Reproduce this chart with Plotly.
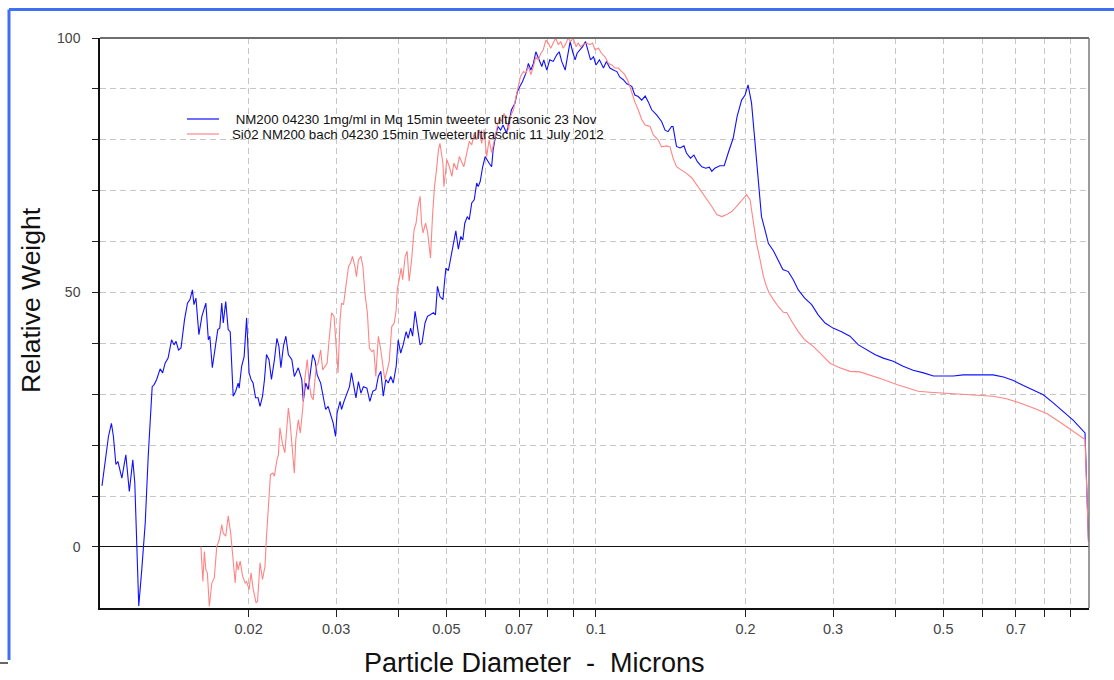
import plotly.graph_objects as go

# Particle size distributions (log10 of diameter in microns, relative weight)
blue_log_diameter = [
    -1.994, -1.981, -1.975, -1.971, -1.966, -1.962, -1.954, -1.946, -1.939, -1.932,
    -1.928, -1.924, -1.920, -1.914, -1.907, -1.901, -1.893, -1.889, -1.884, -1.877,
    -1.872, -1.867, -1.861, -1.854, -1.849, -1.845, -1.840, -1.835, -1.828, -1.822,
    -1.817, -1.812, -1.809, -1.805, -1.799, -1.793, -1.785, -1.780, -1.777, -1.772,
    -1.767, -1.761, -1.757, -1.753, -1.750, -1.745, -1.740, -1.736, -1.730, -1.725,
    -1.720, -1.718, -1.713, -1.708, -1.703, -1.698, -1.694, -1.690, -1.685, -1.680,
    -1.676, -1.671, -1.667, -1.663, -1.658, -1.653, -1.647, -1.642, -1.638, -1.634,
    -1.629, -1.624, -1.619, -1.612, -1.607, -1.599, -1.592, -1.589, -1.584, -1.579,
    -1.574, -1.570, -1.565, -1.561, -1.554, -1.549, -1.544, -1.539, -1.534, -1.529,
    -1.524, -1.521, -1.515, -1.512, -1.507, -1.502, -1.496, -1.492, -1.487, -1.483,
    -1.478, -1.473, -1.468, -1.461, -1.455, -1.449, -1.443, -1.438, -1.433, -1.428,
    -1.423, -1.418, -1.413, -1.408, -1.402, -1.398, -1.393, -1.388, -1.382, -1.378,
    -1.373, -1.369, -1.364, -1.359, -1.354, -1.350, -1.344, -1.339, -1.334, -1.327,
    -1.323, -1.319, -1.314, -1.308, -1.305, -1.302, -1.297, -1.292, -1.287, -1.282,
    -1.277, -1.272, -1.268, -1.264, -1.259, -1.255, -1.250, -1.245, -1.240, -1.237,
    -1.233, -1.228, -1.223, -1.220, -1.215, -1.210, -1.207, -1.201, -1.197, -1.192,
    -1.187, -1.180, -1.174, -1.170, -1.163, -1.158, -1.153, -1.148, -1.141, -1.136,
    -1.131, -1.126, -1.121, -1.116, -1.109, -1.105, -1.099, -1.093, -1.086, -1.079,
    -1.074, -1.069, -1.062, -1.058, -1.052, -1.047, -1.042, -1.038, -1.032, -1.027,
    -1.021, -1.016, -1.011, -1.005, -1.000, -0.993, -0.985, -0.979, -0.972, -0.965,
    -0.958, -0.952, -0.945, -0.938, -0.928, -0.922, -0.915, -0.908, -0.901, -0.895,
    -0.888, -0.878, -0.868, -0.861, -0.855, -0.848, -0.845, -0.838, -0.831, -0.823,
    -0.818, -0.810, -0.803, -0.796, -0.787, -0.779, -0.772, -0.767, -0.761, -0.751,
    -0.742, -0.734, -0.724, -0.716, -0.707, -0.700, -0.694, -0.687, -0.680, -0.673,
    -0.667, -0.660, -0.653, -0.643, -0.633, -0.624, -0.613, -0.603, -0.593, -0.580,
    -0.566, -0.553, -0.539, -0.523, -0.506, -0.489, -0.472, -0.455, -0.439, -0.422,
    -0.402, -0.382, -0.362, -0.341, -0.321, -0.301, -0.281, -0.261, -0.241, -0.221,
    -0.201, -0.180, -0.160, -0.140, -0.120, -0.100, -0.080, -0.060, -0.040, -0.016,
    -0.009,
]
blue_weight = [
    12.0, 21.7, 24.3, 21.7, 16.2, 16.8, 13.5, 18.1, 10.9, 17.1,
    12.6, 0.1, -11.6, -4.5, 4.7, 17.8, 31.5, 31.9, 32.9, 35.0,
    34.2, 36.1, 37.1, 40.7, 39.7, 40.4, 38.7, 39.1, 44.6, 47.9,
    48.6, 50.5, 47.6, 48.9, 41.7, 45.3, 47.9, 40.7, 41.4, 35.2,
    38.7, 42.7, 43.0, 47.9, 44.0, 48.2, 42.7, 42.3, 29.6, 30.6,
    32.2, 31.2, 35.5, 37.4, 45.0, 34.2, 32.9, 32.2, 29.3, 29.3,
    27.6, 29.6, 32.9, 37.8, 36.8, 32.9, 36.8, 41.0, 39.4, 35.2,
    39.4, 41.4, 37.8, 36.8, 33.5, 35.2, 32.9, 28.6, 32.2, 30.9,
    34.8, 37.8, 36.5, 33.8, 32.2, 29.6, 27.0, 27.6, 26.0, 24.4,
    21.7, 26.3, 28.6, 27.0, 28.6, 29.9, 31.5, 34.2, 31.2, 29.3,
    32.5, 30.2, 31.5, 31.2, 28.6, 30.6, 30.9, 33.5, 34.5, 29.6,
    32.9, 32.2, 33.5, 32.2, 35.5, 40.7, 38.1, 39.7, 42.3, 41.0,
    43.0, 41.4, 46.3, 42.7, 39.7, 40.1, 44.0, 45.3, 45.6, 46.0,
    45.6, 51.2, 49.2, 48.6, 51.8, 54.8, 54.3, 57.1, 59.2, 62.1,
    58.5, 61.0, 60.3, 63.6, 64.9, 64.3, 67.6, 68.2, 71.5, 70.8,
    71.8, 74.7, 76.7, 76.1, 75.4, 74.7, 78.0, 81.3, 82.6, 81.9,
    82.9, 81.3, 83.9, 85.9, 87.2, 89.5, 90.5, 91.4, 93.1, 95.0,
    93.7, 95.0, 97.3, 96.0, 94.4, 95.7, 93.7, 95.7, 95.4, 96.7,
    97.3, 95.4, 93.7, 96.0, 99.3, 97.3, 95.7, 97.0, 97.7, 98.3,
    99.3, 97.3, 95.7, 96.3, 94.7, 95.7, 94.1, 95.4, 94.1, 93.7,
    93.4, 92.3, 91.8, 91.0, 90.5, 88.8, 88.5, 87.8, 88.6, 87.5,
    85.9, 84.9, 83.6, 81.9, 81.6, 82.6, 82.6, 78.7, 78.4, 78.8,
    77.4, 76.4, 77.0, 75.7, 74.7, 74.4, 74.6, 73.8, 74.4, 74.9,
    74.9, 77.4, 80.3, 84.6, 87.8, 88.8, 90.8, 87.2, 79.3, 70.8,
    64.9, 62.3, 59.6, 58.2, 56.1, 54.5, 54.1, 52.5, 50.5, 48.9,
    47.6, 45.6, 44.0, 43.0, 42.3, 41.4, 39.7, 38.7, 37.8, 37.1,
    36.5, 35.5, 34.7, 34.2, 33.6, 33.6, 33.6, 33.8, 33.8, 33.7,
    33.8, 33.4, 32.7, 31.7, 30.8, 29.9, 28.3, 26.6, 24.9, 22.4,
    1.0,
]

red_log_diameter = [
    -1.795, -1.791, -1.788, -1.785, -1.782, -1.778, -1.773, -1.768, -1.763, -1.758,
    -1.753, -1.750, -1.745, -1.740, -1.735, -1.730, -1.726, -1.723, -1.720, -1.716,
    -1.711, -1.706, -1.703, -1.698, -1.694, -1.690, -1.684, -1.681, -1.676, -1.671,
    -1.666, -1.663, -1.659, -1.655, -1.650, -1.647, -1.642, -1.639, -1.636, -1.631,
    -1.626, -1.622, -1.619, -1.616, -1.611, -1.607, -1.604, -1.599, -1.595, -1.590,
    -1.586, -1.581, -1.577, -1.573, -1.569, -1.563, -1.559, -1.554, -1.550, -1.545,
    -1.541, -1.537, -1.532, -1.527, -1.523, -1.519, -1.515, -1.512, -1.508, -1.503,
    -1.498, -1.494, -1.490, -1.485, -1.482, -1.478, -1.473, -1.469, -1.465, -1.460,
    -1.456, -1.451, -1.447, -1.443, -1.438, -1.433, -1.429, -1.425, -1.420, -1.416,
    -1.411, -1.406, -1.402, -1.400, -1.396, -1.392, -1.389, -1.384, -1.380, -1.376,
    -1.371, -1.366, -1.362, -1.358, -1.354, -1.351, -1.348, -1.343, -1.339, -1.335,
    -1.333, -1.329, -1.325, -1.321, -1.317, -1.314, -1.308, -1.306, -1.300, -1.295,
    -1.290, -1.286, -1.280, -1.275, -1.270, -1.266, -1.260, -1.255, -1.250, -1.245,
    -1.240, -1.235, -1.230, -1.225, -1.220, -1.215, -1.210, -1.205, -1.200, -1.195,
    -1.190, -1.185, -1.181, -1.176, -1.172, -1.166, -1.161, -1.156, -1.152, -1.146,
    -1.141, -1.136, -1.131, -1.126, -1.121, -1.116, -1.111, -1.106, -1.101, -1.096,
    -1.091, -1.086, -1.081, -1.076, -1.071, -1.066, -1.060, -1.056, -1.051, -1.046,
    -1.040, -1.036, -1.031, -1.026, -1.019, -1.012, -1.007, -1.002, -0.995, -0.989,
    -0.982, -0.975, -0.968, -0.962, -0.955, -0.948, -0.942, -0.935, -0.928, -0.922,
    -0.915, -0.908, -0.901, -0.891, -0.885, -0.875, -0.868, -0.858, -0.851, -0.845,
    -0.838, -0.828, -0.818, -0.807, -0.797, -0.787, -0.777, -0.767, -0.757, -0.747,
    -0.737, -0.727, -0.717, -0.707, -0.697, -0.690, -0.684, -0.677, -0.670, -0.663,
    -0.658, -0.652, -0.643, -0.633, -0.623, -0.616, -0.606, -0.593, -0.580, -0.563,
    -0.546, -0.529, -0.512, -0.489, -0.469, -0.449, -0.422, -0.395, -0.368, -0.352,
    -0.328, -0.301, -0.268, -0.234, -0.201, -0.174, -0.147, -0.120, -0.093, -0.066,
    -0.040, -0.016, -0.009,
]
red_weight = [
    0.1, -6.8, -0.9, -4.5, -5.1, -11.7, -7.1, -6.1, 0.1, 1.4,
    4.4, 2.7, 2.1, 6.1, 2.7, -3.1, -7.1, -2.8, -4.5, -2.8,
    -5.8, -7.1, -6.8, -8.4, -5.1, -8.1, -11.0, -10.7, -3.1, -6.4,
    -3.8, 2.1, 9.3, 14.2, 14.5, 13.9, 17.1, 18.1, 23.4, 20.4,
    18.5, 23.0, 27.3, 25.0, 19.5, 14.5, 21.1, 25.0, 22.4, 27.3,
    32.9, 36.8, 32.2, 29.6, 28.9, 35.5, 36.1, 38.7, 34.8, 35.5,
    36.1, 40.7, 46.0, 45.3, 40.1, 34.2, 44.6, 47.9, 47.6, 51.2,
    55.1, 55.8, 57.1, 55.1, 53.1, 56.4, 57.1, 55.1, 49.9, 46.0,
    39.1, 38.4, 38.7, 33.5, 41.4, 38.7, 35.5, 32.9, 34.8, 36.5,
    43.3, 44.0, 46.6, 50.5, 52.5, 54.8, 52.5, 57.1, 58.1, 52.2,
    56.4, 62.3, 63.6, 66.9, 68.9, 63.6, 61.7, 63.6, 62.0, 58.7,
    56.8, 64.9, 70.8, 74.0, 78.0, 79.3, 75.4, 70.8, 76.1, 74.7,
    72.8, 75.4, 74.1, 76.7, 75.4, 74.7, 77.4, 79.7, 79.0, 81.3,
    80.0, 82.0, 79.3, 82.0, 76.7, 80.0, 77.5, 80.0, 82.0, 84.2,
    83.6, 85.2, 83.9, 82.0, 84.6, 85.9, 88.5, 90.8, 92.4, 93.4,
    93.1, 94.4, 92.8, 94.4, 96.3, 95.7, 97.0, 97.7, 99.6, 99.0,
    98.0, 99.0, 100.0, 98.7, 99.3, 98.0, 99.0, 100.0, 99.3, 100.0,
    98.3, 99.0, 98.3, 98.7, 99.0, 98.7, 99.0, 97.7, 98.0, 97.0,
    96.3, 95.0, 94.7, 94.1, 94.1, 93.4, 92.8, 91.4, 89.3, 87.5,
    85.9, 84.0, 82.9, 82.6, 81.0, 80.0, 78.6, 78.8, 78.6, 76.4,
    74.7, 74.1, 73.4, 72.5, 71.1, 69.8, 68.2, 66.9, 65.3, 64.9,
    65.3, 65.9, 66.9, 68.1, 69.2, 68.2, 64.6, 59.7, 56.5, 53.1,
    51.5, 50.0, 48.6, 47.2, 46.1, 46.0, 44.3, 42.3, 40.7, 39.4,
    37.8, 36.1, 35.3, 34.5, 34.4, 33.8, 32.9, 31.9, 31.0, 30.6,
    30.4, 30.2, 30.0, 29.7, 29.6, 29.1, 28.3, 27.3, 26.2, 24.5,
    22.7, 21.1, 1.0,
]

series_names = [
    " NM200 04230 1mg/ml in Mq 15min tweeter ultrasonic 23 Nov",
    "Si02 NM200 bach 04230 15min Tweeterultrascnic 11 July 2012",
]
series_colors = ["#1010ff", "#ff8585"]

x_tick_values = [0.02, 0.03, 0.04, 0.05, 0.06, 0.07, 0.08, 0.09,
                 0.1, 0.2, 0.3, 0.4, 0.5, 0.6, 0.7, 0.8, 0.9]
x_tick_labels = ["0.02", "0.03", "", "0.05", "", "0.07", "", "",
                 "0.1", "0.2", "0.3", "", "0.5", "", "0.7", "", ""]
y_tick_values = [0, 10, 20, 30, 40, 50, 60, 70, 80, 90, 100]
y_tick_labels = ["0", "", "", "", "", "50", "", "", "", "", "100"]

FONT = "Liberation Sans, Arial, sans-serif"
GRID = "#c6c6c6"

fig = go.Figure()
for log_d, weight, name, color in [
    (blue_log_diameter, blue_weight, series_names[0], series_colors[0]),
    (red_log_diameter, red_weight, series_names[1], series_colors[1]),
]:
    fig.add_trace(go.Scatter(
        x=[10 ** v for v in log_d], y=weight, mode="lines", name=name,
        line=dict(color=color, width=1.1), showlegend=False,
    ))

# plot area in pixels: x 100..1089, y 38..608
L, R, T, B = 100, 1089, 38, 608
def px(x):
    return (x - L) / (R - L)
def py(y):
    return (B - y) / (B - T)

shapes = [
    # top and right frame of the plot area
    dict(type="line", xref="paper", yref="paper", x0=0, x1=1, y0=1, y1=1,
         line=dict(color="#6e6e6e", width=2)),
    dict(type="line", xref="paper", yref="paper", x0=1, x1=1, y0=0, y1=1,
         line=dict(color="#7a7a7a", width=1.5)),
    # window border
    dict(type="line", xref="paper", yref="paper", x0=px(9), x1=px(1114),
         y0=py(9.5), y1=py(9.5), line=dict(color="#3f6ff2", width=3)),
    dict(type="line", xref="paper", yref="paper", x0=px(9), x1=px(9),
         y0=py(9.5), y1=py(660), line=dict(color="#3f6ff2", width=3)),
    dict(type="line", xref="paper", yref="paper", x0=px(0), x1=px(8),
         y0=py(663), y1=py(663), line=dict(color="#333", width=1.5)),
]
annotations = []
# legend inside the plot
for i, (name, color) in enumerate(zip(series_names, series_colors)):
    yy = 119 + 15 * i
    shapes.append(dict(type="line", xref="paper", yref="paper",
                       x0=px(187), x1=px(219), y0=py(yy), y1=py(yy),
                       line=dict(color=color, width=1.2)))
    annotations.append(dict(xref="paper", yref="paper", x=px(230), y=py(yy),
                            xanchor="left", yanchor="middle", showarrow=False,
                            text=name.replace(" ", "\u00a0"),
                            font=dict(family=FONT, size=13.3, color="#111")))

annotations.append(dict(xref="paper", yref="paper", x=px(31), y=py(300),
                        text="Relative Weight", textangle=-90, showarrow=False,
                        xanchor="center", yanchor="middle",
                        font=dict(family=FONT, size=26.5, color="#111")))
annotations.append(dict(xref="paper", yref="paper", x=px(534), y=py(663),
                        text="Particle Diameter \u00a0-\u00a0 Microns",
                        showarrow=False, xanchor="center", yanchor="middle",
                        font=dict(family=FONT, size=27, color="#111")))

fig.update_layout(
    width=1114, height=680,
    margin=dict(l=L, r=1114 - R, t=T, b=680 - B),
    paper_bgcolor="white", plot_bgcolor="white",
    xaxis=dict(
        type="log", range=[-1.998, -0.008],
        tickvals=x_tick_values, ticktext=x_tick_labels,
        ticks="outside", ticklen=7, tickcolor="#222", tickwidth=1,
        showgrid=True, gridcolor=GRID, griddash="6px,4px", gridwidth=1,
        showline=True, linecolor="#111", linewidth=1.5, zeroline=False,
        tickfont=dict(family=FONT, size=14.5, color="#444"),
    ),
    yaxis=dict(
        range=[-12, 100],
        tickvals=y_tick_values, ticktext=y_tick_labels,
        ticks="outside", ticklen=6, tickcolor="#222", tickwidth=1,
        showgrid=True, gridcolor=GRID, griddash="6px,4px", gridwidth=1,
        showline=True, linecolor="#111", linewidth=1.5,
        zeroline=True, zerolinecolor="#111", zerolinewidth=1,
        tickfont=dict(family=FONT, size=14, color="#444"),
        ticklabelstandoff=9,
    ),
    shapes=shapes, annotations=annotations,
)

fig.write_html("out.html")
